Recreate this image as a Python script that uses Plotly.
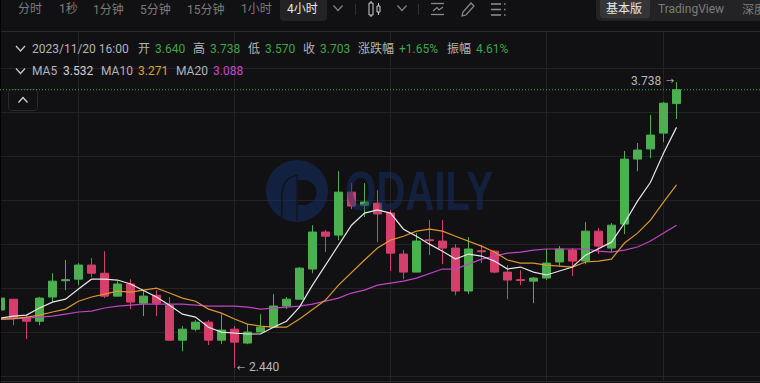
import plotly.graph_objects as go
import math

# ---------- chart data ----------
opens = [2.703,2.752,2.668,2.652,2.762,2.836,2.843,2.907,2.870,2.766,2.821,2.734,2.770,2.725,2.566,2.616,2.648,2.566,2.616,2.553,
         2.603,2.625,2.721,2.752,2.889,3.057,3.043,3.238,3.179,3.188,3.143,2.957,2.875,3.022,3.016,2.984,2.789,2.972,2.970,2.875,
         2.841,2.834,2.848,2.921,2.975,2.925,3.061,2.984,3.093,3.388,3.434,3.506,3.640]
highs = [2.757,2.752,2.683,2.763,2.870,2.930,2.916,2.939,2.970,2.834,2.843,2.793,2.793,2.762,2.630,2.657,2.657,2.684,2.630,2.639,
         2.684,2.775,2.762,2.898,3.088,3.066,3.333,3.279,3.279,3.247,3.157,2.975,3.052,3.111,3.111,3.002,3.034,2.998,2.975,2.907,
         2.884,2.852,2.980,2.993,2.984,3.102,3.075,3.098,3.425,3.461,3.588,3.647,3.738]
lows = [2.703,2.634,2.571,2.634,2.739,2.793,2.816,2.852,2.757,2.766,2.707,2.675,2.675,2.562,2.516,2.607,2.544,2.548,2.440,2.548,
        2.603,2.625,2.707,2.752,2.870,2.966,3.020,3.161,3.125,3.011,2.880,2.843,2.875,2.952,2.911,2.770,2.775,2.916,2.870,2.752,
        2.816,2.734,2.839,2.902,2.857,2.911,2.957,2.966,3.048,3.333,3.393,3.465,3.570]
closes = [2.757,2.666,2.652,2.757,2.834,2.840,2.907,2.870,2.766,2.821,2.739,2.766,2.734,2.566,2.616,2.648,2.566,2.612,2.557,2.603,
          2.625,2.721,2.752,2.893,3.057,3.038,3.238,3.175,3.193,3.139,2.961,2.875,3.016,3.018,2.984,2.789,2.980,2.968,2.875,2.839,
          2.837,2.848,2.916,2.980,2.925,3.061,2.993,3.088,3.388,3.429,3.497,3.642,3.703]
ma5 = [2.666,2.675,2.680,2.712,2.739,2.752,2.798,2.843,2.843,2.839,2.821,2.793,2.762,2.725,2.684,2.671,2.625,2.603,2.598,2.594,
       2.594,2.625,2.652,2.716,2.816,2.907,2.998,3.088,3.143,3.157,3.143,3.070,3.038,3.002,2.970,2.934,2.957,2.948,2.925,2.889,
       2.898,2.875,2.862,2.880,2.898,2.952,2.980,3.011,3.098,3.197,3.283,3.415,3.532]
ma10 = [2.662,2.664,2.671,2.680,2.694,2.707,2.743,2.762,2.775,2.789,2.784,2.793,2.802,2.780,2.757,2.743,2.707,2.689,2.662,2.639,
        2.630,2.625,2.625,2.662,2.703,2.748,2.816,2.875,2.930,2.984,3.020,3.038,3.061,3.070,3.061,3.038,3.016,2.993,2.966,2.930,
        2.916,2.916,2.907,2.902,2.898,2.921,2.925,2.934,3.007,3.052,3.111,3.193,3.271]
ma20 = [2.660,2.662,2.666,2.671,2.675,2.684,2.694,2.698,2.712,2.721,2.725,2.730,2.730,2.730,2.730,2.725,2.721,2.721,2.721,2.716,
        2.707,2.712,2.716,2.721,2.730,2.743,2.757,2.780,2.793,2.816,2.825,2.834,2.848,2.870,2.889,2.889,2.911,2.934,2.948,2.961,
        2.966,2.975,2.980,2.980,2.980,2.980,2.970,2.966,2.975,2.989,3.016,3.052,3.088]
x_index = list(range(len(closes)))
grid_x = [6, 18, 30, 42, 51]
grid_y = [2.4, 2.6, 2.8, 3.0, 3.2, 3.4, 3.6, 3.8]

tabs = ["分时", "1秒", "1分钟", "5分钟", "15分钟", "1小时", "4小时"]
tab_left = [18, 59, 93, 140, 187, 241, 287]
row1 = [("2023/11/20 16:00", 32, "l"), ("开", 138, "l"), ("3.640", 155, "g"), ("高", 193, "l"), ("3.738", 210, "g"),
        ("低", 248, "l"), ("3.570", 265, "g"), ("收", 303, "l"), ("3.703", 320, "g"), ("涨跌幅", 358, "l"),
        ("+1.65%", 399, "g"), ("振幅", 447, "l"), ("4.61%", 476, "g")]
row2 = [("MA5", 32, "l"), ("3.532", 63, "w"), ("MA10", 101, "l"), ("3.271", 138, "o"), ("MA20", 176, "l"), ("3.088", 213, "m")]

# ---------- styles ----------
W, H = 760, 383
BG = "#111113"
GRID = "#232325"
UP = "#4caf50"
DOWN = "#d43f6c"
MA_COL = ["#e6e6e6", "#d9982f", "#c044c4"]
TXT = {"l": "#b4b4b4", "g": "#3fa648", "w": "#d0d0d0", "o": "#e0a030", "m": "#c848cc"}
FONT = "Roboto, 'Noto Sans CJK SC', sans-serif"
X0 = 0.5
STEP = 13.0
PX_PER_UNIT = 220.3
Y36 = 112.4
LOGO = "rgba(20,48,105,0.52)"

fx = lambda p: p / W
fy = lambda p: 1 - p / H

fig = go.Figure()
fig.add_trace(go.Candlestick(
    x=x_index, open=opens, high=highs, low=lows, close=closes, whiskerwidth=0,
    increasing=dict(line=dict(color=UP, width=1), fillcolor=UP),
    decreasing=dict(line=dict(color=DOWN, width=1), fillcolor=DOWN),
    showlegend=False, hoverinfo="skip"))
for name, vals, col in zip(["MA20", "MA10", "MA5"], [ma20, ma10, ma5], MA_COL[::-1]):
    fig.add_trace(go.Scatter(x=x_index, y=vals, mode="lines", name=name, showlegend=False, hoverinfo="skip",
                             line=dict(color=col, width=1.2)))

ann = []
def text(s, x, y, color, size=12, anchor="left", font=FONT, weight="normal"):
    ann.append(dict(text=s, x=fx(x), y=fy(y), xref="paper", yref="paper", xanchor=anchor, yanchor="middle",
                    showarrow=False, borderpad=0, borderwidth=0,
                    font=dict(size=size, color=color, family=font, weight=weight)))

for s, x in zip(tabs, tab_left):
    text(s, x, 9.5, "#e8e8e8" if s == "4小时" else "#7c7c7c")
for s, x, c in row1:
    text(s, x, 48.5, TXT[c])
for s, x, c in row2:
    text(s, x, 71, TXT[c])
text("基本版", 606, 9, "#e8e8e8")
text("TradingView", 658, 9, "#7c7c7c")
text("深度", 742, 9, "#7c7c7c")
text("3.738", 631, 81, "#b8b8b8")
text("→", 674, 81, "#d0d0d0", size=8, anchor="right")
text("←", 237, 368, "#d0d0d0", size=8)
text("2.440", 249, 367, "#b8b8b8")
text("ODAILY", 419, 190, LOGO, size=56, anchor="center",
     font="'Liberation Sans', sans-serif", weight="bold")

shapes = []
def rect(x0, y0, x1, y1, fill, line=None):
    shapes.append(dict(type="rect", xref="paper", yref="paper", x0=fx(x0), x1=fx(x1), y0=fy(y0), y1=fy(y1),
                       fillcolor=fill, line=dict(width=1 if line else 0, color=line or fill), layer="above"))
def path(points, color, width=1.2, fill=None, close=False):
    d = "M" + " L".join(f"{fx(a):.5f},{fy(b):.5f}" for a, b in points) + (" Z" if close else "")
    shapes.append(dict(type="path", xref="paper", yref="paper", path=d, fillcolor=fill,
                       line=dict(color=color, width=width), layer="above"))
def rounded(x0, y0, x1, y1, r, fill, line=None):
    pts = []
    for cx, cy, a0 in [(x1 - r, y0 + r, -90), (x1 - r, y1 - r, 0), (x0 + r, y1 - r, 90), (x0 + r, y0 + r, 180)]:
        for k in range(5):
            a = math.radians(a0 + k * 22.5)
            pts.append((cx + r * math.cos(a), cy + r * math.sin(a)))
    path(pts, line or fill, 1 if line else 0, fill=fill, close=True)
def chevron(cx, cy, color, up=False, w=4.5, h=2.5):
    s = -1 if up else 1
    path([(cx - w, cy - s * h), (cx, cy + s * h), (cx + w, cy - s * h)], color, 1.3)

# toolbar
rect(0, 0, W, 31, BG)
path([(0, 31.5), (W, 31.5)], "#2b2b2d", 1)
rounded(280, -4, 327, 21, 4, "#232325")
chevron(338, 8, "#808080")
path([(355.5, 4), (355.5, 15)], "#333335", 1)
rect(369, 3, 373, 15, BG, "#d0d0d0")
path([(371, 1), (371, 3)], "#d0d0d0", 1); path([(371, 15), (371, 17)], "#d0d0d0", 1)
rect(377, 6, 380, 12, BG, "#d0d0d0")
path([(378.5, 3), (378.5, 6)], "#d0d0d0", 1); path([(378.5, 12), (378.5, 15)], "#d0d0d0", 1)
chevron(402, 8, "#808080")
path([(418.5, 4), (418.5, 15)], "#333335", 1)
path([(431, 3.5), (444, 3.5)], "#8a8a8a", 1.3); path([(431, 14.5), (444, 14.5)], "#8a8a8a", 1.3)
path([(433, 11), (437, 7.5), (439, 10), (443, 7)], "#8a8a8a", 1.2)
path([(462, 16), (463, 12), (471, 3), (474, 6), (466, 15)], "#8a8a8a", 1.2, close=True)
for yy in (4, 9.5, 15):
    path([(491, yy), (501, yy)], "#8a8a8a", 1.6)
    path([(504, yy), (505.5, yy)], "#8a8a8a", 1.6)
rounded(596, -4, 764, 21, 5, "#232325")
rounded(600, -4, 650, 18.5, 4, "#353537")
# legend chevrons and collapse button
chevron(20.5, 48.5, "#c8c8c8")
chevron(20.5, 71, "#c8c8c8")
rounded(8.5, 89.5, 37.5, 110.5, 3, BG, "#2c2c2e")
chevron(23, 100, "#d0d0d0", up=True)
# bottom rule and left edge
path([(0, 381.5), (W, 381.5)], "#2b2b2d", 1)
rect(0, 0, 1, H, "#000000")
# last-close dotted line
shapes.append(dict(type="line", xref="paper", yref="y", x0=0, x1=1, y0=closes[-1], y1=closes[-1],
                   line=dict(color="#3cb043", width=1, dash="1px,2px"), layer="above"))
# watermark logo (translucent, over the marks)
cx, cy, r = 297, 191, 31
circle = [(cx + r * math.cos(math.radians(a)), cy + r * math.sin(math.radians(a))) for a in range(0, 360, 6)]
dhole = [(298, 180), (304, 180)] + [(304 + 12.5 * math.cos(math.radians(a)), 192.5 + 12.5 * math.sin(math.radians(a)))
                                  for a in range(-90, 91, 15)] + [(298, 205)]
d = "M" + " L".join(f"{fx(a):.5f},{fy(b):.5f}" for a, b in circle) + " Z M" + \
    " L".join(f"{fx(a):.5f},{fy(b):.5f}" for a, b in dhole) + " Z"
shapes.append(dict(type="path", xref="paper", yref="paper", path=d, fillcolor=LOGO, line=dict(width=0), layer="above"))
path([(297, 175), (297, 221)], BG, 1.2)
path([(282, 219), (282, 192), (284, 184), (289, 178), (297, 175)], BG, 1.3)

fig.update_layout(
    width=W, height=H, margin=dict(l=0, r=0, t=0, b=0), autosize=False,
    paper_bgcolor=BG, plot_bgcolor=BG, showlegend=False, boxgap=0.385, boxgroupgap=0,
    font=dict(family=FONT), annotations=ann, shapes=shapes,
    xaxis=dict(range=[(0 - X0) / STEP, (W - X0) / STEP], tickvals=grid_x, showticklabels=False, ticks="",
               showgrid=True, gridcolor=GRID, gridwidth=1, zeroline=False, rangeslider=dict(visible=False), fixedrange=True),
    yaxis=dict(range=[3.6 - (H - Y36) / PX_PER_UNIT, 3.6 + Y36 / PX_PER_UNIT], tickvals=grid_y, showticklabels=False, ticks="",
               showgrid=True, gridcolor=GRID, gridwidth=1, zeroline=False, fixedrange=True),
)
POST = """
document.documentElement.style.margin='0';
document.body.style.margin='0';
document.body.style.overflow='hidden';
document.body.style.background='%s';
document.querySelectorAll('text.annotation-text').forEach(function(t){
  if(t.textContent==='ODAILY'){t.setAttribute('textLength','148');t.setAttribute('lengthAdjust','spacingAndGlyphs');}
});
""" % BG
fig.write_html("out.html", config=dict(displayModeBar=False), post_script=POST)
